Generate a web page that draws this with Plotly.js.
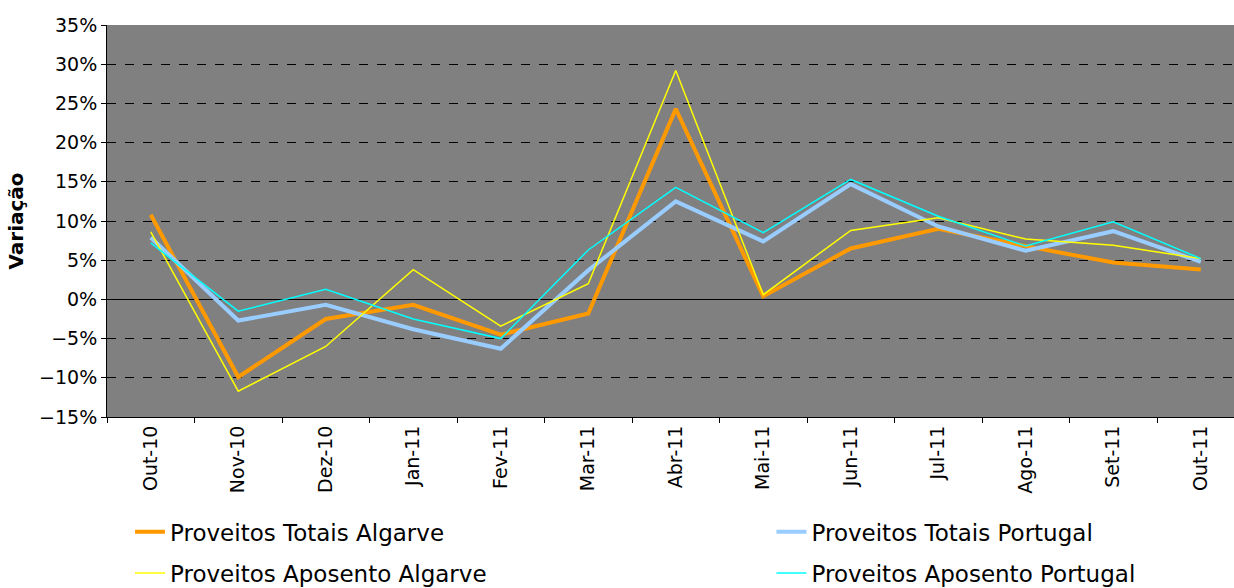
<!DOCTYPE html>
<html>
<head>
<meta charset="utf-8">
<script src="https://cdn.plot.ly/plotly-3.0.1.min.js"></script>
<style>html,body{margin:0;padding:0;background:#fff;}#chart{width:1234px;height:588px;}</style>
</head>
<body>
<div id="chart"></div>
<script>
const months = ["Out-10","Nov-10","Dez-10","Jan-11","Fev-11","Mar-11","Abr-11","Mai-11","Jun-11","Jul-11","Ago-11","Set-11","Out-11"];
const totaisAlgarve   = [0.108,-0.099,-0.025,-0.007,-0.045,-0.018,0.243,0.004,0.065,0.090,0.068,0.047,0.038];
const totaisPortugal  = [0.079,-0.027,-0.007,-0.038,-0.063,0.037,0.125,0.074,0.147,0.093,0.062,0.087,0.048];
const aposentoAlgarve = [0.086,-0.117,-0.060,0.038,-0.034,0.020,0.292,0.006,0.088,0.104,0.077,0.069,0.052];
const aposentoPortugal= [0.072,-0.015,0.013,-0.025,-0.050,0.063,0.143,0.085,0.153,0.106,0.068,0.099,0.052];

const FONT = "DejaVu Sans, Verdana, sans-serif";

const traces = [
  {x: months, y: totaisAlgarve, name: "Proveitos Totais Algarve", mode: "lines", line: {color: "#FF9900", width: 4}, legend: "legend"},
  {x: months, y: totaisPortugal, name: "Proveitos Totais Portugal", mode: "lines", line: {color: "#99CCFF", width: 4}, legend: "legend2"},
  {x: months, y: aposentoAlgarve, name: "Proveitos Aposento Algarve", mode: "lines", line: {color: "#FFFF00", width: 1.5}, legend: "legend3"},
  {x: months, y: aposentoPortugal, name: "Proveitos Aposento Portugal", mode: "lines", line: {color: "#00FFFF", width: 1.5}, legend: "legend4"}
];

function leg(x, y) {
  return {x: x, y: y, xanchor: "left", yanchor: "middle", orientation: "v",
          bgcolor: "rgba(0,0,0,0)", borderwidth: 0,
          font: {family: FONT, size: 23, color: "#000"}};
}

const layout = {
  width: 1234, height: 588,
  margin: {l: 107, r: 0, t: 25, b: 171, autoexpand: false},
  paper_bgcolor: "#ffffff",
  plot_bgcolor: "#808080",
  font: {family: FONT, size: 19, color: "#000"},
  showlegend: true,
  xaxis: {
    type: "category",
    range: [-0.5, 12.38],
    tickangle: -90,
    tickson: "boundaries",
    ticks: "outside", ticklen: 5, tickcolor: "#000", tickwidth: 1,
    showline: true, linecolor: "#000", linewidth: 1,
    showgrid: false, zeroline: false,
    automargin: false,
    tickfont: {family: FONT, size: 19, color: "#000"},
    fixedrange: true
  },
  yaxis: {
    range: [-0.15, 0.35],
    dtick: 0.05, tick0: 0,
    tickformat: ".0%",
    ticks: "outside", ticklen: 5, tickcolor: "#000", tickwidth: 1,
    showline: true, linecolor: "#000", linewidth: 1,
    showgrid: true, gridcolor: "#000", griddash: "dash", gridwidth: 1,
    zeroline: true, zerolinecolor: "#000", zerolinewidth: 1,
    automargin: false,
    tickfont: {family: FONT, size: 19, color: "#000"},
    title: {text: "<b>Variação</b>", font: {family: FONT, size: 20, color: "#000"}, standoff: 10},
    fixedrange: true
  },
  legend:  leg(0.0204, -0.293),
  legend2: leg(0.5896, -0.293),
  legend3: leg(0.0204, -0.398),
  legend4: leg(0.5896, -0.398)
};

Plotly.newPlot("chart", traces, layout, {displayModeBar: false, staticPlot: true});
</script>
</body>
</html>
